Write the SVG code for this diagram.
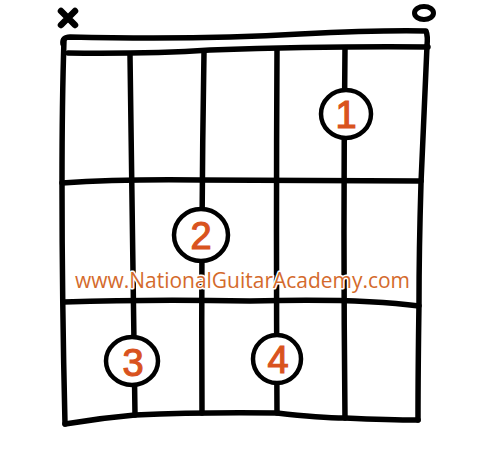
<svg xmlns="http://www.w3.org/2000/svg" width="494" height="455" viewBox="0 0 494 455">
<style>
.ln{fill:none;stroke:#000;stroke-width:5.5;stroke-linecap:round;stroke-linejoin:round}
.fg{fill:#fff;stroke:#000;stroke-width:4.5}
.num{font-family:"Liberation Sans","DejaVu Sans",sans-serif;font-size:38px;fill:#d9531e;stroke:#d9531e;stroke-width:1.2;text-anchor:middle}
.url{font-family:"Open Sans","Liberation Sans",sans-serif;font-size:21px;fill:#d46a2c;stroke:#fff;stroke-width:3;paint-order:stroke;stroke-linejoin:round}
</style>
<rect width="494" height="455" fill="#fff"/>
<g id="markers">
<path d="M61 11 L75 25 M75 11 L61 25" fill="none" stroke="#000" stroke-width="6.5" stroke-linecap="round"/>
<ellipse cx="424" cy="13" rx="9.5" ry="6.5" fill="none" stroke="#000" stroke-width="5"/>
</g>
<g id="grid">
<path class="ln" d="M63 44 Q62 37 70 37 Q200 40 300 34 Q380 30 426 31 Q428 36 427 46"/>
<path class="ln" d="M68 53 Q150 54 210 50 Q330 46 428 47"/>
<path class="ln" d="M64 40 Q62 100 62 183 Q62 300 65 424"/>
<path class="ln" d="M427 46 Q424 120 421 183 Q419 250 419 303 Q418 370 418 420"/>
<path class="ln" d="M62 183 Q120 179 200 180 Q320 181 421 181"/>
<path class="ln" d="M64 302 Q150 299 250 301 Q360 298 419 306"/>
<path class="ln" d="M65 424 Q100 418 135 415 Q200 412 277 413 Q320 418 345 418 Q390 420 418 420"/>
<path class="ln" d="M130 55 Q132 240 135 415"/>
<path class="ln" d="M204 52 Q201 230 202 413"/>
<path class="ln" d="M277 50 Q276 230 277 413"/>
<path class="ln" d="M345 48 Q343 230 345 418"/>
</g>
<g id="f1"><ellipse class="fg" cx="346" cy="114" rx="25" ry="24"/><text class="num" x="346" y="128">1</text></g>
<g id="f2"><ellipse class="fg" cx="201" cy="235" rx="27" ry="26"/><text class="num" x="201" y="249">2</text></g>
<g id="f3"><ellipse class="fg" cx="132" cy="361" rx="26" ry="24"/><text class="num" x="133" y="376">3</text></g>
<g id="f4"><ellipse class="fg" cx="277" cy="359" rx="24" ry="24"/><text class="num" x="278" y="373">4</text></g>
<text class="url" x="75" y="288" textLength="335" lengthAdjust="spacingAndGlyphs">www.NationalGuitarAcademy.com</text>
</svg>
